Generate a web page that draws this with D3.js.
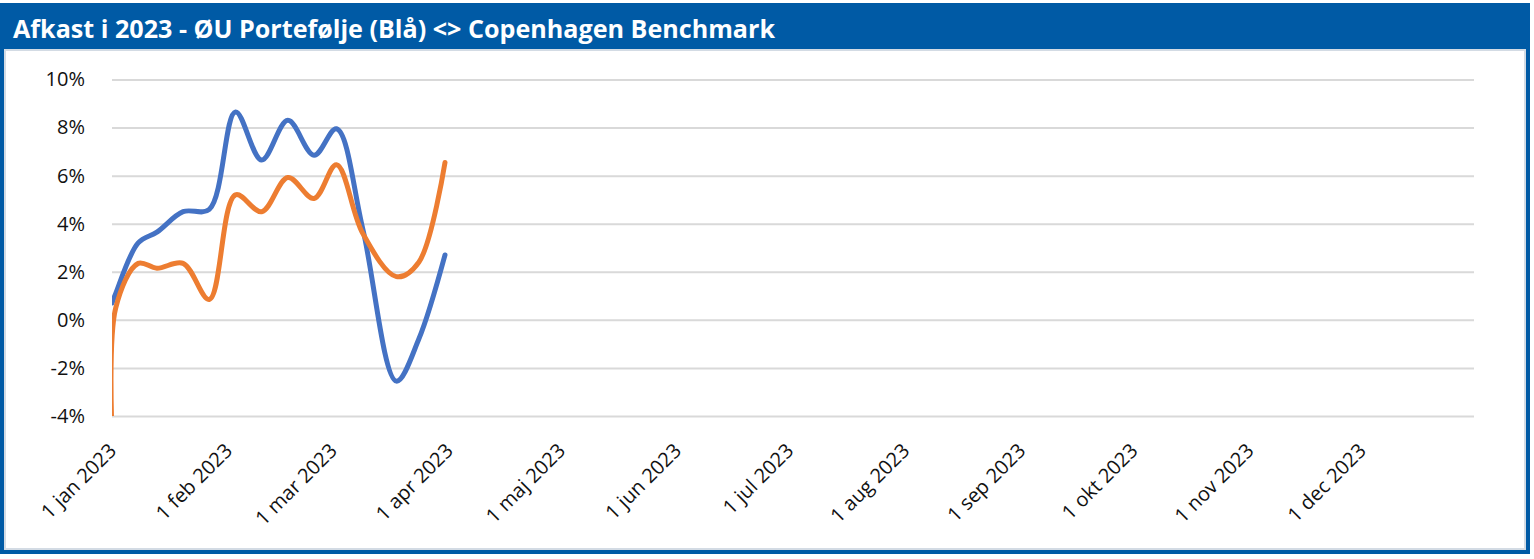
<!DOCTYPE html>
<html>
<head>
<meta charset="utf-8">
<script src="https://cdn.jsdelivr.net/npm/d3@7"></script>
<style>
  body { margin: 0; background: #fff; }
  svg { display: block; }
</style>
</head>
<body>
<svg id="chart"></svg>
<script>
// data (weekly-ish points, % return)
const dates = ["2023-01-01", "2023-01-02", "2023-01-08", "2023-01-13", "2023-01-20", "2023-01-27",
  "2023-02-03", "2023-02-10", "2023-02-17", "2023-02-24", "2023-03-02", "2023-03-09",
  "2023-03-18", "2023-03-24", "2023-03-31"];
const portfolio = [0.7, 1.1, 3.2, 3.65, 4.5, 4.6, 8.65, 6.65, 8.3, 6.85, 7.95, 3.8, -2.55, -0.8, 2.7];
const benchmark = [-4.6, 0.5, 2.35, 2.15, 2.35, 0.85, 5.2, 4.5, 5.92, 5.05, 6.45, 3.6, 1.8, 2.4, 6.55];

const yTicks = [-4, -2, 0, 2, 4, 6, 8, 10];
const yTickLabels = ["-4%", "-2%", "0%", "2%", "4%", "6%", "8%", "10%"];
const monthNames = ["jan", "feb", "mar", "apr", "maj", "jun", "jul", "aug", "sep", "okt", "nov", "dec"];

const title = "Afkast i 2023 - ØU Portefølje (Blå) <> Copenhagen Benchmark";

const svgWidth = 1534;
const svgHeight = 559;
const plot = { left: 112, right: 1474, top: 79.5, bottom: 416 };

const parse = d3.timeParse("%Y-%m-%d");

const svg = d3.select("#chart")
  .attr("width", svgWidth)
  .attr("height", svgHeight);

// frame
svg.append("rect")
  .attr("x", 0).attr("y", 3)
  .attr("width", 1530).attr("height", 551)
  .attr("fill", "#005aa5");

svg.append("rect")
  .attr("x", 5).attr("y", 50)
  .attr("width", 1520).attr("height", 499)
  .attr("fill", "#fff")
  .attr("stroke", "#d3dbe4")
  .attr("stroke-width", 2);

svg.append("text")
  .attr("x", 13)
  .attr("y", 38)
  .attr("fill", "#fff")
  .attr("font-family", "'Open Sans', sans-serif")
  .attr("font-weight", 700)
  .attr("font-size", "25px")
  .attr("textLength", 762)
  .attr("lengthAdjust", "spacingAndGlyphs")
  .text(title);

const xScale = d3.scaleTime()
  .domain([parse("2023-01-01"), parse("2023-12-31")])
  .range([plot.left, plot.right]);

const yScale = d3.scaleLinear()
  .domain([-4, 10])
  .range([plot.bottom, plot.top]);

// gridlines + y labels
const yAxis = svg.append("g")
  .attr("transform", `translate(${plot.left},0)`)
  .call(d3.axisLeft(yScale)
    .tickValues(yTicks)
    .tickSize(-(plot.right - plot.left))
    .tickPadding(27)
    .tickFormat((d, i) => yTickLabels[i]));

yAxis.select(".domain").remove();
yAxis.selectAll("line")
  .attr("stroke", "#d9d9d9")
  .attr("stroke-width", 2);
yAxis.selectAll("text")
  .attr("font-family", "'Open Sans', sans-serif")
  .attr("font-size", "20px")
  .attr("fill", "#111");

// x labels
const monthTicks = d3.range(12).map(m => new Date(2023, m, 1));
const xAxis = svg.append("g")
  .attr("transform", `translate(0,${plot.bottom})`)
  .call(d3.axisBottom(xScale)
    .tickValues(monthTicks)
    .tickSize(0)
    .tickFormat(d => `1 ${monthNames[d.getMonth()]} ${d.getFullYear()}`));

xAxis.select(".domain").remove();
xAxis.selectAll("text")
  .attr("x", 0)
  .attr("y", 0)
  .attr("dy", 0)
  .attr("transform", "translate(5,36) rotate(-45)")
  .attr("text-anchor", "end")
  .attr("font-family", "'Open Sans', sans-serif")
  .attr("font-size", "20px")
  .attr("fill", "#111");

// lines
svg.append("clipPath")
  .attr("id", "plot-clip")
  .append("rect")
  .attr("x", plot.left)
  .attr("y", 55)
  .attr("width", plot.right - plot.left)
  .attr("height", plot.bottom - 55);

const series = [
  { name: "ØU Portefølje", values: portfolio, color: "#4472c4" },
  { name: "Copenhagen Benchmark", values: benchmark, color: "#ed7d31" }
];

const line = d3.line()
  .x(d => xScale(d.date))
  .y(d => yScale(d.value))
  .curve(d3.curveCatmullRom.alpha(0.5));

svg.append("g")
  .attr("clip-path", "url(#plot-clip)")
  .selectAll("path")
  .data(series)
  .enter()
  .append("path")
  .attr("d", s => line(dates.map((d, i) => ({ date: parse(d), value: s.values[i] }))))
  .attr("fill", "none")
  .attr("stroke", s => s.color)
  .attr("stroke-width", 5)
  .attr("stroke-linecap", "round")
  .attr("stroke-linejoin", "round");
</script>
</body>
</html>
